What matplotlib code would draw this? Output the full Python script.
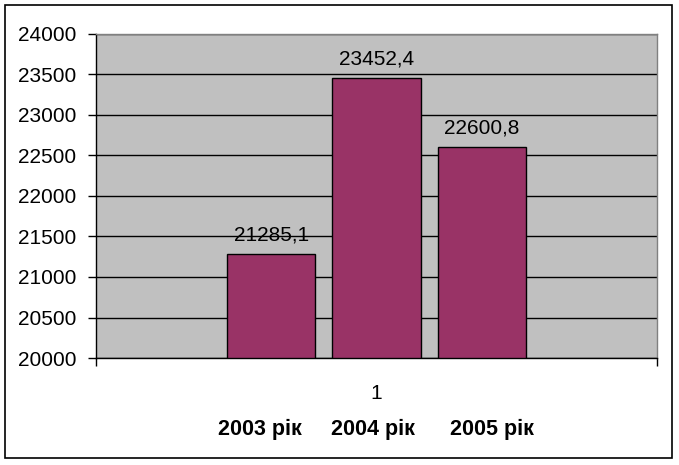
import matplotlib
matplotlib.use("Agg")
import matplotlib.pyplot as plt
from matplotlib.patches import Rectangle

plt.rcParams['font.family'] = ['Liberation Sans', 'DejaVu Sans']

categories = ["1"]
series_names = ["2003 рік", "2004 рік", "2005 рік"]
values = [21285.1, 23452.4, 22600.8]
value_labels = ["21285,1", "23452,4", "22600,8"]
yticks = [20000, 20500, 21000, 21500, 22000, 22500, 23000, 23500, 24000]

W, H = 679, 465
fig = plt.figure(figsize=(W / 100, H / 100), dpi=100)
ax = fig.add_axes([96 / W, (H - 358) / H, (657 - 96) / W, (358 - 34) / H])
ax.set_facecolor('#C0C0C0')

bar_w = 0.157
step = 0.1877
n = len(values)
for i, (v, lab) in enumerate(zip(values, value_labels)):
    x = (i - (n - 1) / 2) * step
    bars = ax.bar([x], [v - yticks[0]], bottom=yticks[0], width=bar_w,
                  color='#993366', edgecolor='black', linewidth=1, zorder=3)
    ax.bar_label(bars, labels=[lab], padding=7, fontsize=15, zorder=4)

ax.set_xlim(-0.5, 0.5)
ax.set_ylim(yticks[0], yticks[-1])
ax.set_yticks(yticks)
ax.set_yticklabels([str(t) for t in yticks], fontsize=15)
ax.yaxis.grid(True, color='black', linewidth=1, zorder=1)
ax.set_axisbelow(True)

ax.set_xticks([0])
ax.set_xticklabels(categories, fontsize=15)
ax.tick_params(axis='x', which='major', length=0, pad=19)
ax.set_xticks([-0.5, 0.5], minor=True)
ax.tick_params(axis='x', which='minor', length=6, width=1, color='black', direction='out')
ax.tick_params(axis='y', length=6, width=1, color='black', direction='out', pad=8)

ax.spines['left'].set_color('black')
ax.spines['bottom'].set_color('black')
ax.spines['top'].set_color('#808080')
ax.spines['right'].set_color('#808080')
for s in ax.spines.values():
    s.set_linewidth(1)

legend_x = [260, 373, 492]
for name, xp in zip(series_names, legend_x):
    fig.text(xp / W, 1 - 429 / H, name, ha='center', va='center',
             fontsize=15.5, fontweight='bold')

fig.patches.append(Rectangle((5 / W, 7 / H), (672 - 5) / W, (458 - 5) / H,
                             transform=fig.transFigure, fill=False,
                             edgecolor='black', linewidth=1.2))

fig.savefig('out.png', dpi=100)
